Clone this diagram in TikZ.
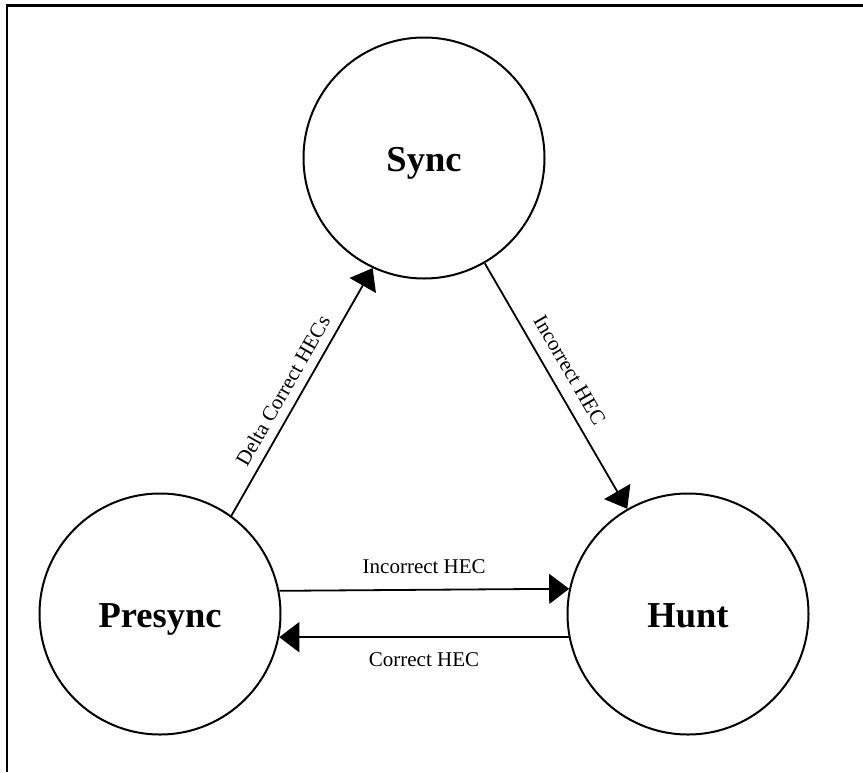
\documentclass[tikz,border=0pt]{standalone}
\usepackage{fontspec}
\setmainfont{Liberation Serif}
\usetikzlibrary{arrows.meta}
\begin{document}
\begin{tikzpicture}[x=1pt,y=-1pt,
  state/.style={circle,draw,line width=2pt,minimum size=241pt,inner sep=0pt,
    font=\fontsize{36.5}{40}\selectfont\bfseries,text height=27pt,text depth=0pt},
  trans/.style={line width=1.8pt,-{Triangle[length=20pt,width=30pt]}},
  lbl/.style={font=\fontsize{21}{24}\selectfont,inner sep=0pt}]
\useasboundingbox (0,0) rectangle (863,772);
\draw[line width=2.8pt] (7,772) -- (7,5.5) -- (863,5.5);
\node[state] (sync) at (424,158) {Sync};
\node[state] (presync) at (160,614) {Presync};
\node[state] (hunt) at (688,614) {Hunt};
\draw[trans] (presync.54) -- node[lbl,sloped,above=9pt,pos=0.47] (l1) {Delta Correct HECs} (sync.245.8);
\draw[trans] (sync.-60) -- node[lbl,sloped,above=12pt,pos=0.475] (l2) {Incorrect HEC} (hunt.120);
\draw[trans] (presync.11.5) -- node[lbl,above=15pt] (l3) {Incorrect HEC} (hunt.168.5);
\draw[trans] (hunt.191.5) -- node[lbl,below=15pt] (l4) {Correct HEC} (presync.-11.5);
\end{tikzpicture}
\end{document}
